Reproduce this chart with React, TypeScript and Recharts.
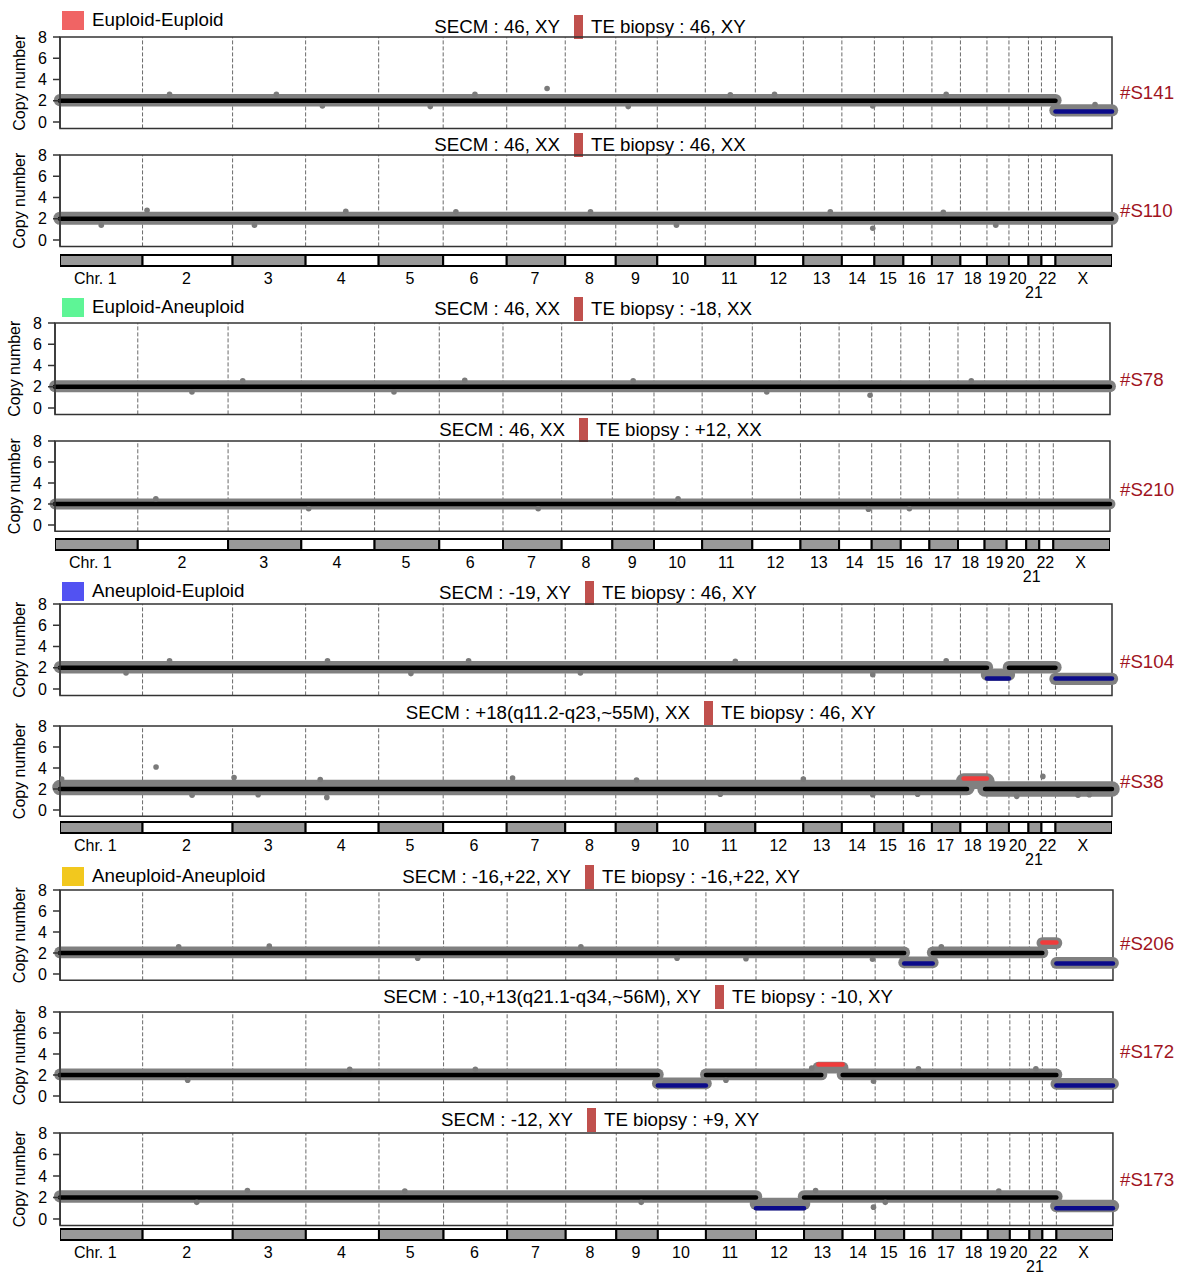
import React from 'react';
import { ComposedChart, BarChart, Bar, XAxis, YAxis, ReferenceLine, ReferenceArea, Scatter } from 'recharts';

// chromosome axis (relative bin widths)
const CHROMS = ['1', '2', '3', '4', '5', '6', '7', '8', '9', '10', '11', '12', '13', '14', '15', '16', '17', '18', '19', '20', '21', '22', 'X'];
const CHROM_LABELS = ['Chr. 1', '2', '3', '4', '5', '6', '7', '8', '9', '10', '11', '12', '13', '14', '15', '16', '17', '18', '19', '20', '21', '22', 'X'];
const CHROM_SIZES = [165, 180, 146, 146, 129, 127, 117, 101, 83, 96, 100, 96, 77, 65, 58, 57, 57, 53, 44, 39, 26, 28, 113];

const GROUP_NAMES = ['Euploid-Euploid', 'Euploid-Aneuploid', 'Aneuploid-Euploid', 'Aneuploid-Aneuploid'];
const GROUP_COLORS = ['#f06464', '#5ef596', '#5252f2', '#f2c81e'];

const SAMPLE_IDS = ['#S141', '#S110', '#S78', '#S210', '#S104', '#S38', '#S206', '#S172', '#S173'];
const SAMPLE_GROUP = [0, 0, 1, 1, 2, 2, 3, 3, 3];
const SECM = ['46, XY', '46, XX', '46, XX', '46, XX', '-19, XY', '+18(q11.2-q23,~55M), XX', '-16,+22, XY', '-10,+13(q21.1-q34,~56M), XY', '-12, XY'];
const TE = ['46, XY', '46, XX', '-18, XX', '+12, XX', '46, XY', '46, XY', '-16,+22, XY', '-10, XY', '+9, XY'];

// segments: [from chr, from fraction, to chr, to fraction, called copy number, mean of raw bins]
const SEGMENTS = [
  [['1', 0, '22', 1, 2, 2.05], ['X', 0, 'X', 1, 1, 1.1]],
  [['1', 0, 'X', 1, 2, 2.05]],
  [['1', 0, 'X', 1, 2, 2.05]],
  [['1', 0, 'X', 1, 2, 2.0]],
  [['1', 0, '18', 1, 2, 2.05], ['19', 0, '19', 1, 1, 1.35], ['20', 0, '22', 1, 2, 2.05], ['X', 0, 'X', 1, 1, 0.95]],
  [['1', 0, '18', 0.25, 2, 2.15], ['18', 0.12, '18', 1, 3, 2.75], ['18', 0.93, 'X', 1, 2, 2.0]],
  [['1', 0, '15', 1, 2, 2.05], ['16', 0, '16', 1, 1, 1.1], ['17', 0, '21', 1, 2, 2.05], ['22', 0, '22', 1, 3, 2.95], ['X', 0, 'X', 1, 1, 1.05]],
  [['1', 0, '9', 1, 2, 2.05], ['10', 0, '10', 1, 1, 1.2], ['11', 0, '13', 0.45, 2, 2.05], ['13', 0.37, '13', 1, 3, 2.7], ['14', 0, '22', 1, 2, 2.05], ['X', 0, 'X', 1, 1, 1.15]],
  [['1', 0, '11', 1, 2, 2.1], ['12', 0, '12', 1, 1, 1.4], ['13', 0, '22', 1, 2, 2.1], ['X', 0, 'X', 1, 1, 1.2]],
];

// spread of raw bins around the segment mean (copy number units)
const NOISE = [0.58, 0.62, 0.56, 0.52, 0.58, 0.74, 0.56, 0.56, 0.58];

// isolated / edge bins: [chr, fraction, copy number]
const OUTLIERS = [
  [['7', 0.69, 3.15], ['4', 0.23, 1.5], ['14', 0.95, 1.5], ['2', 0.3, 2.6], ['11', 0.5, 2.55], ['3', 0.6, 2.6], ['5', 0.8, 1.45], ['6', 0.5, 2.6], ['9', 0.3, 1.45], ['12', 0.4, 2.6], ['17', 0.5, 2.6], ['X', 0.7, 1.65]],
  [['2', 0.05, 2.8], ['14', 0.95, 1.1], ['19', 0.4, 1.4], ['6', 0.2, 2.65], ['4', 0.55, 2.7], ['1', 0.5, 1.4], ['3', 0.3, 1.4], ['8', 0.5, 2.65], ['10', 0.4, 1.4], ['13', 0.7, 2.65], ['17', 0.4, 2.6]],
  [['14', 0.95, 1.2], ['6', 0.4, 2.6], ['3', 0.2, 2.55], ['2', 0.6, 1.5], ['5', 0.3, 1.5], ['9', 0.5, 2.55], ['12', 0.3, 1.5], ['18', 0.5, 2.55]],
  [['14', 0.9, 1.5], ['7', 0.6, 1.55], ['4', 0.1, 1.55], ['2', 0.2, 2.5], ['10', 0.5, 2.5], ['16', 0.3, 1.55]],
  [['14', 0.95, 1.35], ['2', 0.3, 2.65], ['5', 0.5, 1.45], ['4', 0.3, 2.65], ['1', 0.8, 1.5], ['6', 0.4, 2.65], ['8', 0.3, 1.5], ['11', 0.6, 2.6], ['17', 0.5, 2.65]],
  [['2', 0.15, 4.1], ['4', 0.29, 1.2], ['4', 0.2, 2.9], ['3', 0.02, 3.1], ['2', 0.55, 1.4], ['3', 0.35, 1.45], ['14', 0.95, 1.45], ['16', 0.5, 1.5], ['20', 0.4, 1.3], ['22', 0.1, 3.2], ['13', 0.0, 2.95], ['7', 0.1, 3.05], ['1', 0.02, 2.95], ['9', 0.5, 2.85], ['11', 0.3, 1.5], ['X', 0.4, 1.4], ['X', 0.6, 1.45]],
  [['14', 0.92, 1.4], ['11', 0.8, 1.45], ['3', 0.5, 2.65], ['2', 0.4, 2.6], ['5', 0.6, 1.5], ['8', 0.3, 2.6], ['10', 0.4, 1.5], ['17', 0.3, 2.6]],
  [['14', 0.95, 1.4], ['13', 0.2, 2.65], ['6', 0.5, 2.55], ['2', 0.5, 1.5], ['4', 0.6, 2.55], ['11', 0.4, 1.5], ['16', 0.5, 2.6], ['21', 0.5, 2.6]],
  [['14', 0.95, 1.1], ['15', 0.35, 1.55], ['2', 0.6, 1.55], ['3', 0.2, 2.65], ['5', 0.4, 2.6], ['9', 0.6, 1.55], ['13', 0.3, 2.65], ['19', 0.5, 2.6]],
];

const Y_TICKS = [0, 2, 4, 6, 8];
const Y_MIN = -0.6;

// layout (page pixels)
const W = 1182;
const H = 1274;
const FONT = '"Liberation Sans", Arial, sans-serif';
const GROUP_LEFT = [60, 55, 60, 60];
const GROUP_RIGHT = [1112, 1110, 1112, 1113];
const GROUP_TITLE_Y = [20, 307, 591, 876];
const BAR_TOP = [255, 539, 822, 1229];
const PANEL_Y8 = [37, 155, 323, 441, 604, 726, 890, 1012, 1133];
const PANEL_Y0 = [122, 240, 408, 525, 689, 810, 974, 1096, 1219];
const TITLE_Y = [27, 145, 309, 430, 593, 713, 877, 997, 1120];
const TITLE_BAR_X = [574, 574, 574, 579, 585, 704, 585, 715, 587];
const ID_Y = [93, 211, 380, 490, 662, 782, 944, 1052, 1180];

const TOTAL = CHROM_SIZES.reduce((a, b) => a + b, 0);
const OFFSETS = CHROM_SIZES.map((_, i) => CHROM_SIZES.slice(0, i).reduce((a, b) => a + b, 0));
const BOUNDARIES = OFFSETS.slice(1);
const CENTERS = OFFSETS.map((o, i) => o + CHROM_SIZES[i] / 2);
const pos = (c: string, f: number) => {
  const i = CHROMS.indexOf(c);
  return OFFSETS[i] + f * CHROM_SIZES[i];
};
const cnColor = (cn: number) => (cn < 2 ? '#0b0b8a' : cn > 2 ? '#f03c3c' : '#000');

const Dot = (p: any) => <circle cx={p.cx} cy={p.cy} r={2.8} fill="#7a7a7a" />;

function Panel({ idx }: { idx: number }) {
  const g = SAMPLE_GROUP[idx];
  const left = GROUP_LEFT[g];
  const right = GROUP_RIGHT[g];
  const y8 = PANEL_Y8[idx];
  const unit = (PANEL_Y0[idx] - y8) / 8;
  const plotH = unit * (8 - Y_MIN);
  const MT = 8, MB = 4, YW = 52;
  const segs = SEGMENTS[idx].map(([c1, f1, c2, f2, cn, raw]: any) => ({ x1: pos(c1, f1), x2: pos(c2, f2), cn, raw }));
  const pts = OUTLIERS[idx].map(([c, f, v]: any) => ({ x: pos(c, f), y: v }));
  const band = NOISE[idx] * 2 * unit;
  return (
    <div style={{ position: 'absolute', left: 0, top: y8 - MT }}>
      <ComposedChart width={W} height={MT + plotH + MB} data={pts} margin={{ top: MT, bottom: MB, left: left - YW, right: W - right }}>
        <XAxis type="number" dataKey="x" domain={[0, TOTAL]} hide allowDataOverflow />
        <YAxis
          type="number"
          dataKey="y"
          domain={[Y_MIN, 8]}
          ticks={Y_TICKS}
          interval={0}
          allowDataOverflow
          width={YW}
          tickSize={7}
          tickMargin={6}
          axisLine={{ stroke: '#333', strokeWidth: 1.5 }}
          tickLine={{ stroke: '#333', strokeWidth: 1.5 }}
          tick={{ fontSize: 16, fill: '#000', fontFamily: FONT }}
          label={{ value: 'Copy number', angle: -90, position: 'insideLeft', offset: 11, style: { textAnchor: 'middle', fontSize: 16, fill: '#000', fontFamily: FONT } }}
        />
        {BOUNDARIES.map((b) => (
          <ReferenceLine key={'b' + b} x={b} stroke="#444" strokeDasharray="4 2" strokeWidth={0.8} />
        ))}
        {segs.map((s, i) => (
          <ReferenceLine key={'g' + i} segment={[{ x: s.x1, y: s.raw }, { x: s.x2, y: s.raw }]} stroke="#808080" strokeWidth={band} strokeLinecap="round" />
        ))}
        <Scatter dataKey="y" isAnimationActive={false} shape={Dot} />
        {segs.map((s, i) => (
          <ReferenceLine key={'c' + i} segment={[{ x: s.x1, y: s.cn }, { x: s.x2, y: s.cn }]} stroke={cnColor(s.cn)} strokeWidth={4.5} strokeLinecap="round" />
        ))}
        <ReferenceArea x1={0} x2={TOTAL} y1={Y_MIN} y2={8} fill="none" fillOpacity={0} stroke="#333" strokeWidth={1.5} ifOverflow="visible" />
      </ComposedChart>
    </div>
  );
}

function ChromTick(props: any) {
  const { x, y, payload } = props;
  const i = CENTERS.indexOf(payload.value);
  const label = CHROM_LABELS[i];
  const low = label === '21';
  return (
    <text x={x + (i === 0 ? -6 : -1)} y={y + (low ? 14 : 0) - 1} dy="0.71em" textAnchor="middle" fontSize={16} fill="#000" fontFamily={FONT}>
      {label}
    </text>
  );
}

const BAR_ROW = [Object.fromEntries([['name', 'chr'], ...CHROMS.map((c, i) => ['c' + c, CHROM_SIZES[i]])])];

function ChromBar({ g }: { g: number }) {
  const left = GROUP_LEFT[g];
  const right = GROUP_RIGHT[g];
  const MT = 2, BH = 11, AH = 44;
  return (
    <div style={{ position: 'absolute', left: 0, top: BAR_TOP[g] - MT }}>
      <BarChart layout="vertical" width={W} height={MT + BH + AH} data={BAR_ROW} margin={{ top: MT, right: W - right, left, bottom: 0 }} barCategoryGap={0} barGap={0}>
        <XAxis type="number" domain={[0, TOTAL]} ticks={CENTERS} interval={0} axisLine={false} tickLine={false} height={AH} tick={(p: any) => <ChromTick {...p} />} allowDataOverflow />
        <YAxis type="category" dataKey="name" hide width={0} />
        {CHROMS.map((c, i) => (
          <Bar key={c} dataKey={'c' + c} stackId="chr" fill={i % 2 ? '#fff' : '#999'} stroke="#000" strokeWidth={2} isAnimationActive={false} />
        ))}
      </BarChart>
    </div>
  );
}

function PanelTitle({ idx }: { idx: number }) {
  const y = TITLE_Y[idx];
  const bx = TITLE_BAR_X[idx];
  const txt: React.CSSProperties = { position: 'absolute', top: y - 11, fontSize: 18.7, lineHeight: '22px', whiteSpace: 'nowrap' };
  return (
    <>
      <div style={{ ...txt, right: W - (bx - 14) }}>SECM : {SECM[idx]}</div>
      <div style={{ position: 'absolute', left: bx, top: y - 12, width: 9, height: 24, background: '#c0504d' }} />
      <div style={{ ...txt, left: bx + 17 }}>TE biopsy : {TE[idx]}</div>
    </>
  );
}

export default function App() {
  return (
    <div style={{ position: 'absolute', left: 0, top: 0, width: W, height: H, background: '#fff', fontFamily: FONT, color: '#000', overflow: 'hidden' }}>
      {GROUP_NAMES.map((name, g) => (
        <div key={name} style={{ position: 'absolute', left: 62, top: GROUP_TITLE_Y[g] - 11, display: 'flex', alignItems: 'center', height: 22 }}>
          <div style={{ width: 22, height: 19, background: GROUP_COLORS[g], marginRight: 8 }} />
          <span style={{ fontSize: 18.8 }}>{name}</span>
        </div>
      ))}
      {SAMPLE_IDS.map((id, idx) => (
        <React.Fragment key={id}>
          <PanelTitle idx={idx} />
          <Panel idx={idx} />
          <div style={{ position: 'absolute', left: 1120, top: ID_Y[idx] - 11, fontSize: 18.7, lineHeight: '22px', color: '#a0141e' }}>{id}</div>
        </React.Fragment>
      ))}
      {GROUP_NAMES.map((name, g) => (
        <ChromBar key={'bar' + g} g={g} />
      ))}
    </div>
  );
}
